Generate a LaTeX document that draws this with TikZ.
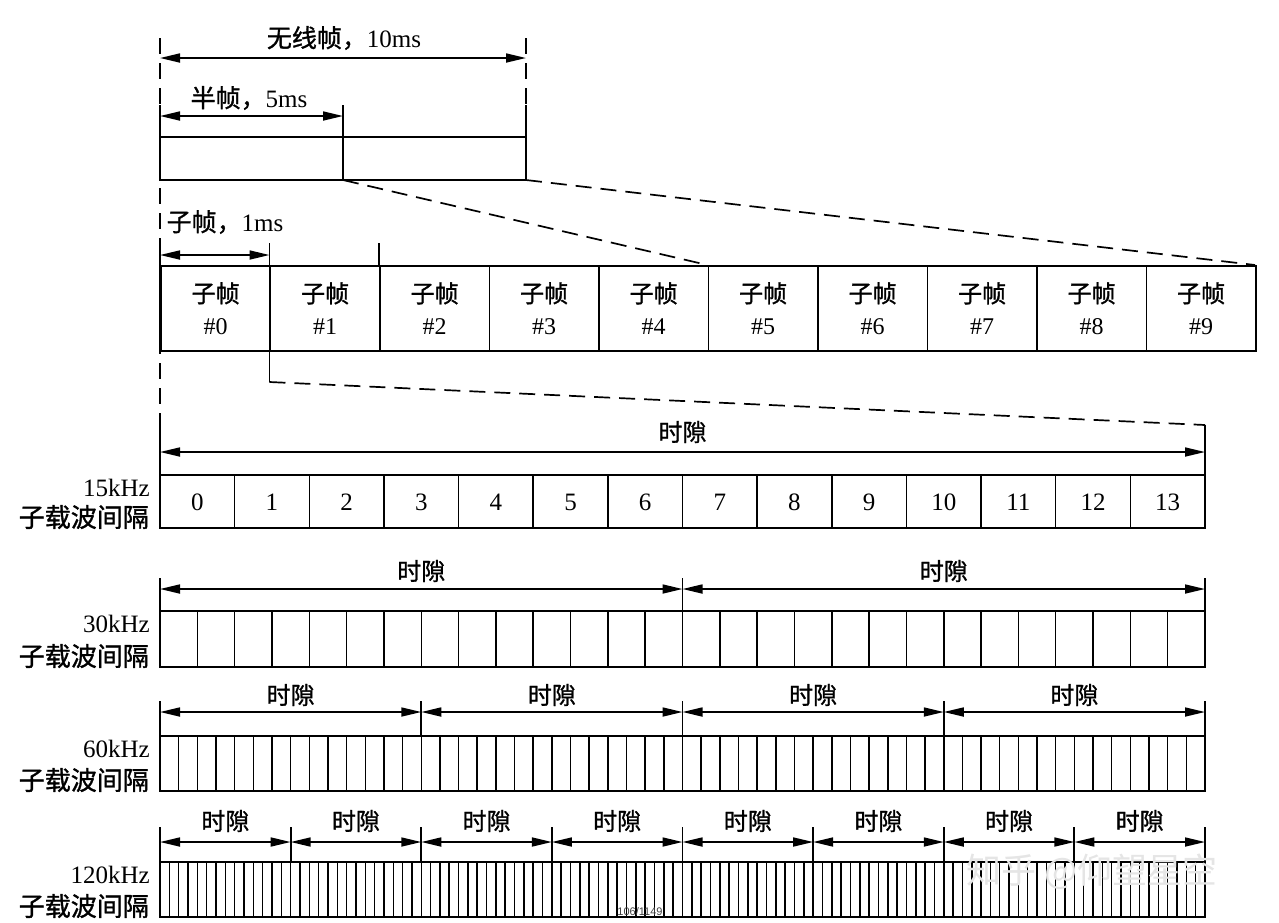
\documentclass[tikz,border=0pt]{standalone}
\usepackage{fontspec}
\setmainfont{Liberation Serif}
\newfontfamily\cjk[FakeBold=1.2]{Noto Sans CJK SC}
\newfontfamily\wmcjk{Noto Sans CJK SC}
\newfontfamily\wmsans{Liberation Sans}
\usetikzlibrary{arrows.meta}
\begin{document}
\begin{tikzpicture}[x=1pt,y=-1pt,
  ln/.style={line width=1.8pt},
  thinln/.style={line width=1.5pt},
  dimarr/.style={line width=1.7pt,{Triangle[length=20pt,width=9pt]}-{Triangle[length=20pt,width=9pt]}},
  dsh/.style={line width=1.7pt,dash pattern=on 16pt off 9pt},
  cj/.style={font=\cjk\fontsize{24}{26}\selectfont,inner sep=0pt},
  cjl/.style={font=\cjk\fontsize{26}{28}\selectfont,inner sep=0pt},
  mix/.style={font=\fontsize{25}{27}\selectfont,inner sep=0pt},
  sfcell/.style={draw,line width=1.8pt,minimum width=109.5pt,minimum height=85pt,anchor=north west,inner sep=0pt,align=center,font=\fontsize{24}{32}\selectfont},
]
\useasboundingbox (0,0) rectangle (1279,922);

% ---------- radio frame ----------
\coordinate (gTop) at (160,38);
\coordinate (gBot) at (160,470);
\draw[dsh] (gTop) -- (gBot);
\coordinate (rTop) at (526,38);
\coordinate (rMid) at (526,105);
\draw[dsh] (rTop) -- (rMid);

\node[mix] (rfl) at (344,38) {{\cjk 无线帧，}10ms};
\coordinate (rfA) at (160,58);
\coordinate (rfB) at (526,58);
\draw[dimarr] (rfA) -- (rfB);

\node[mix] (hfl) at (249,98) {{\cjk 半帧，}5ms};
\coordinate (hfA) at (160,116);
\coordinate (hfB) at (343,116);
\draw[dimarr] (hfA) -- (hfB);

\coordinate (fTL) at (160,137);
\coordinate (fBR) at (526,180);
\draw[ln] (fTL) rectangle (fBR);
\coordinate (lt1) at (160,105);
\coordinate (lb1) at (160,180);
\draw[ln] (lt1) -- (lb1);
\coordinate (ht) at (343,105);
\coordinate (hb) at (343,180);
\draw[ln] (ht) -- (hb);
\draw[ln] (rMid) -- (fBR);

% ---------- subframes ----------
\foreach \i in {0,...,9}{
  \node[sfcell] (sf\i) at ({160+109.5*\i},265) {{\cjk 子帧}\\\#\i};
}
\coordinate (z1) at (707.5,265);
\coordinate (z2) at (1255,265);
\draw[dsh] (hb) -- (z1);
\draw[dsh] (fBR) -- (z2);

\node[mix] (sfl) at (225,222) {{\cjk 子帧，}1ms};
\coordinate (sA) at (160,255);
\coordinate (sB) at (269.5,255);
\draw[dimarr] (sA) -- (sB);
\coordinate (lt2) at (160,245);
\coordinate (lb2) at (160,350);
\draw[ln] (lt2) -- (lb2);
\coordinate (t1a) at (269.5,243);
\coordinate (t1b) at (269.5,382);
\draw[ln] (t1a) -- (t1b);
\coordinate (t2a) at (379,243);
\coordinate (t2b) at (379,265);
\draw[ln] (t2a) -- (t2b);
\coordinate (z3) at (1205,425);
\draw[dsh] (t1b) -- (z3);

% ---------- numerology rows ----------
\foreach \nm/\top/\bot/\n/\s/\ay/\ty/\ly/\khz in
  {a/475/528/14/1/452/425/432/15,
   b/611/667/28/2/589/578/571/30,
   c/736/791/56/4/712/701/695/60,
   d/862/917/112/8/842/827/821/120}{
  \pgfmathsetmacro\w{1045/\n}
  \pgfmathtruncatemacro\nmo{\n-1}
  \pgfmathsetmacro\sw{1045/\s}
  \coordinate (\nm TL) at (160,\top);
  \coordinate (\nm BR) at (1205,\bot);
  \draw[ln] (\nm TL) rectangle (\nm BR);
  \foreach \i in {1,...,\nmo}{
    \draw[thinln] ({160+\i*\w},\top) -- ({160+\i*\w},\bot);
  }
  \foreach \j in {0,...,\s}{
    \coordinate (\nm t\j) at ({160+\j*\sw},\ty);
    \coordinate (\nm b\j) at ({160+\j*\sw},\top);
    \draw[ln] (\nm t\j) -- (\nm b\j);
  }
  \foreach \j in {1,...,\s}{
    \coordinate (\nm aL\j) at ({160+(\j-1)*\sw},\ay);
    \coordinate (\nm aR\j) at ({160+\j*\sw},\ay);
    \draw[dimarr] (\nm aL\j) -- (\nm aR\j);
    \node[cj] (\nm sl\j) at ({160+(\j-0.5)*\sw},\ly) {时隙};
  }
  \node[mix,anchor=east] (\nm khz) at (150,{\top+13}) {\khz kHz};
  \node[cjl,anchor=east] (\nm scs) at (149,{\bot-11}) {子载波间隔};
}
\foreach \i in {0,...,13}{
  \node[mix] (n\i) at ({160+(\i+0.5)*74.643},502) {\i};
}

% ---------- overlay texts ----------
\node[font=\wmcjk\fontsize{35}{36}\selectfont,text=gray!20,anchor=west,inner sep=0pt] (wm) at (966,872) {知乎 @仰望星空};
\node[font=\wmsans\fontsize{11}{12}\selectfont,text=black!75,inner sep=0pt] (pg) at (640,912) {106/1149};
\end{tikzpicture}
\end{document}
